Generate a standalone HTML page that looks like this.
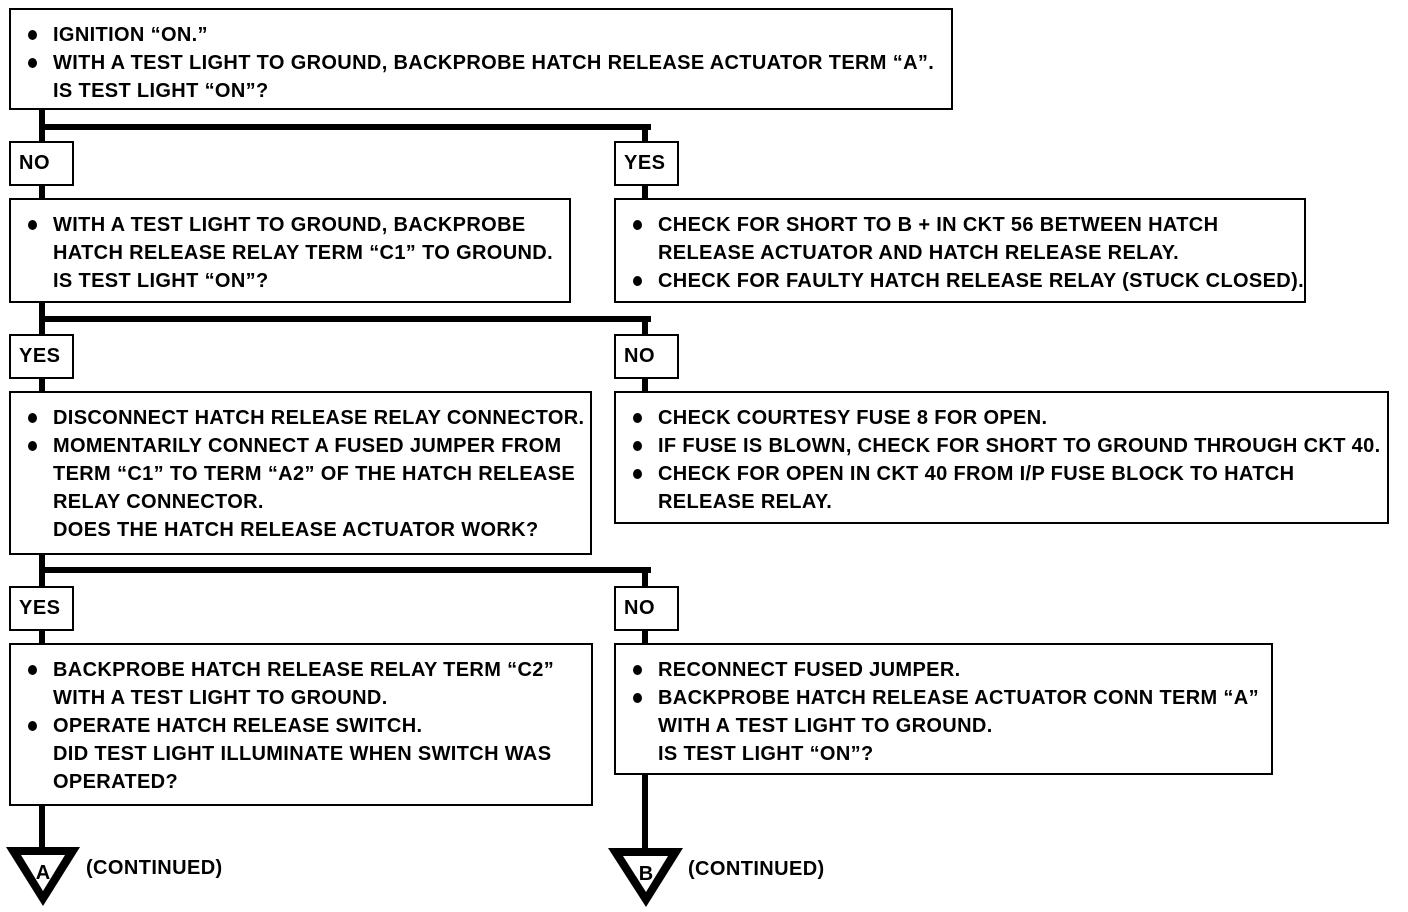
<!DOCTYPE html>
<html><head><meta charset="utf-8"><style>
body{margin:0;width:1408px;height:912px;background:#fff;position:relative;overflow:hidden;font-family:"Liberation Sans",sans-serif;font-weight:bold;color:#000}
.b{position:absolute;border:2px solid #000;box-sizing:border-box;background:#fff}
.t{position:absolute;left:0;top:11px;font-size:20px;line-height:28px;white-space:nowrap;letter-spacing:0.35px}
.t div{position:relative;padding-left:42px}
.t div.bl::before{content:"";position:absolute;left:17px;top:9px;width:9px;height:10px;border-radius:50%;background:#000}
.l{position:absolute;font-size:20px;line-height:40px;padding-left:8px;letter-spacing:0.5px}
.k{position:absolute;background:#000}
.c{position:absolute;font-size:20px;letter-spacing:0.4px}
</style></head><body>
<div class="k" style="left:39px;top:108px;width:6px;height:92px"></div>
<div class="k" style="left:39px;top:124px;width:612px;height:6px"></div>
<div class="k" style="left:642px;top:124px;width:6px;height:76px"></div>
<div class="k" style="left:39px;top:300px;width:6px;height:93px"></div>
<div class="k" style="left:39px;top:316px;width:612px;height:6px"></div>
<div class="k" style="left:642px;top:316px;width:6px;height:77px"></div>
<div class="k" style="left:39px;top:552px;width:6px;height:93px"></div>
<div class="k" style="left:39px;top:567px;width:612px;height:6px"></div>
<div class="k" style="left:642px;top:567px;width:6px;height:78px"></div>
<div class="k" style="left:39px;top:803px;width:6px;height:50px"></div>
<div class="k" style="left:642px;top:772px;width:6px;height:81px"></div>

<div class="b" style="left:9px;top:8px;width:944px;height:102px"><div class="t">
<div class="bl">IGNITION “ON.”</div>
<div class="bl">WITH A TEST LIGHT TO GROUND, BACKPROBE HATCH RELEASE ACTUATOR TERM “A”.</div>
<div>IS TEST LIGHT “ON”?</div></div></div>

<div class="b l" style="left:9px;top:141px;width:65px;height:45px">NO</div>
<div class="b l" style="left:614px;top:141px;width:65px;height:45px">YES</div>

<div class="b" style="left:9px;top:198px;width:562px;height:105px"><div class="t">
<div class="bl">WITH A TEST LIGHT TO GROUND, BACKPROBE</div>
<div>HATCH RELEASE RELAY TERM “C1” TO GROUND.</div>
<div>IS TEST LIGHT “ON”?</div></div></div>

<div class="b" style="left:614px;top:198px;width:692px;height:105px"><div class="t">
<div class="bl">CHECK FOR SHORT TO B + IN CKT 56 BETWEEN HATCH</div>
<div>RELEASE ACTUATOR AND HATCH RELEASE RELAY.</div>
<div class="bl">CHECK FOR FAULTY HATCH RELEASE RELAY (STUCK CLOSED).</div></div></div>

<div class="b l" style="left:9px;top:334px;width:65px;height:45px">YES</div>
<div class="b l" style="left:614px;top:334px;width:65px;height:45px">NO</div>

<div class="b" style="left:9px;top:391px;width:583px;height:164px"><div class="t">
<div class="bl">DISCONNECT HATCH RELEASE RELAY CONNECTOR.</div>
<div class="bl">MOMENTARILY CONNECT A FUSED JUMPER FROM</div>
<div>TERM “C1” TO TERM “A2” OF THE HATCH RELEASE</div>
<div>RELAY CONNECTOR.</div>
<div>DOES THE HATCH RELEASE ACTUATOR WORK?</div></div></div>

<div class="b" style="left:614px;top:391px;width:775px;height:133px"><div class="t">
<div class="bl">CHECK COURTESY FUSE 8 FOR OPEN.</div>
<div class="bl">IF FUSE IS BLOWN, CHECK FOR SHORT TO GROUND THROUGH CKT 40.</div>
<div class="bl">CHECK FOR OPEN IN CKT 40 FROM I/P FUSE BLOCK TO HATCH</div>
<div>RELEASE RELAY.</div></div></div>

<div class="b l" style="left:9px;top:586px;width:65px;height:45px">YES</div>
<div class="b l" style="left:614px;top:586px;width:65px;height:45px">NO</div>

<div class="b" style="left:9px;top:643px;width:584px;height:163px"><div class="t">
<div class="bl">BACKPROBE HATCH RELEASE RELAY TERM “C2”</div>
<div>WITH A TEST LIGHT TO GROUND.</div>
<div class="bl">OPERATE HATCH RELEASE SWITCH.</div>
<div>DID TEST LIGHT ILLUMINATE WHEN SWITCH WAS</div>
<div>OPERATED?</div></div></div>

<div class="b" style="left:614px;top:643px;width:659px;height:132px"><div class="t">
<div class="bl">RECONNECT FUSED JUMPER.</div>
<div class="bl">BACKPROBE HATCH RELEASE ACTUATOR CONN TERM “A”</div>
<div>WITH A TEST LIGHT TO GROUND.</div>
<div>IS TEST LIGHT “ON”?</div></div></div>

<svg style="position:absolute;left:0;top:0" width="1408" height="912">
<polygon points="6,847 80,847 43,906" fill="#000"/>
<polygon points="21,855 65,855 43,891" fill="#fff"/>
<text x="43" y="879" font-family="Liberation Sans,sans-serif" font-weight="bold" font-size="20" text-anchor="middle">A</text>
<polygon points="608,848 683,848 646,907" fill="#000"/>
<polygon points="623,856 668,856 646,892" fill="#fff"/>
<text x="646" y="880" font-family="Liberation Sans,sans-serif" font-weight="bold" font-size="20" text-anchor="middle">B</text>
</svg>
<div class="c" style="left:86px;top:857px">(CONTINUED)</div>
<div class="c" style="left:688px;top:858px">(CONTINUED)</div>
</body></html>
